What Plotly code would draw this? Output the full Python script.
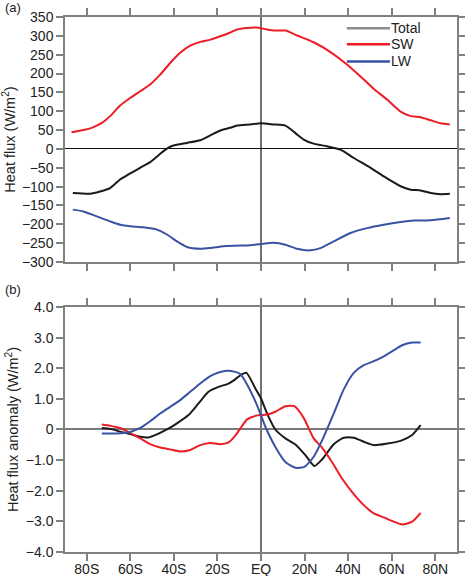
import plotly.graph_objects as go

# ---------------- data: panel (a) zonal-mean heat flux (W/m2) ----------------
sw_lat = [-87, -81.5, -77.7, -73.1, -69.3, -64.7, -60.1, -55.5, -50.9, -46.3, -41.7, -37.1,
          -32.5, -27.9, -23.3, -18.7, -14.1, -11, -6.4, -1.8, 0, 2.8, 5.8, 11.2, 16.6, 24.2,
          31.9, 39.5, 47.2, 51.8, 57.9, 64.1, 68.7, 73.3, 77.9, 82.5, 86.7]
sw_val = [44, 50, 56, 69, 87, 115, 135, 153, 171, 197, 228, 255,
          274, 284, 290, 299, 309, 317, 321, 322, 320, 317, 314, 314, 301, 283,
          257, 224, 184, 159, 131, 99, 87, 84, 76, 68, 65]

tot_lat = [-86.4, -78.5, -73.9, -69.3, -64.7, -60.1, -55.5, -50.9, -46.3, -43.2, -40.2, -34,
           -27.9, -23.3, -18.7, -14.1, -11, -4.9, 0, 5.8, 11.2, 15.8, 19.6, 24.2, 30.3, 36.5,
           42.6, 50.3, 56.4, 64.1, 68.7, 73.3, 77.9, 82.5, 86.7]
tot_val = [-117, -119, -113, -104, -81, -65, -50, -35, -13, 1, 9, 16,
           23, 36, 49, 56, 62, 65, 68, 65, 62, 42, 25, 14, 7, -2,
           -24, -50, -73, -99, -108, -110, -117, -120, -119]

lw_lat = [-86.4, -81.5, -75.4, -69.3, -64.7, -60.1, -53.9, -47.8, -43.2, -38.6, -34, -27.9,
          -23.3, -17.2, -9.5, -6.4, 0, 5.8, 11.2, 16.6, 22.7, 27.3, 33.4, 41.1, 48.7, 56.4,
          64.1, 70.2, 77.9, 86.7]
lw_val = [-161, -166, -179, -192, -201, -205, -208, -214, -227, -245, -260, -265,
          -263, -258, -256, -256, -252, -249, -254, -265, -269, -263, -245, -223, -210, -201,
          -194, -190, -189, -183]

# ---------------- data: panel (b) heat flux anomaly (W/m2) ----------------
swa_lat = [-73.1, -69.3, -64.7, -60.1, -55.5, -50.9, -46.3, -41.7, -37.1, -32.5, -27.9, -23.3,
           -18.7, -14.9, -11.8, -9.5, -6.4, -1.8, 2.8, 6.6, 11.2, 15.3, 19.6, 24.2, 28, 32.6,
           37.2, 42.6, 47.2, 51.8, 56.4, 61, 64.8, 69.4, 73.3]
swa_val = [0.16, 0.12, 0.05, -0.11, -0.29, -0.48, -0.59, -0.65, -0.72, -0.67, -0.51, -0.44,
           -0.48, -0.42, -0.2, 0.03, 0.33, 0.46, 0.49, 0.58, 0.76, 0.76, 0.38, -0.29, -0.59, -1.06,
           -1.6, -2.11, -2.47, -2.74, -2.87, -3.01, -3.10, -3.01, -2.72]

tota_lat = [-73.1, -69.3, -64.7, -60.1, -55.5, -51.6, -47.8, -43.2, -38.6, -33.3, -28.7, -24.1,
            -19.5, -14.9, -12, -9.5, -6.7, -2.6, 0, 2.8, 6.6, 11.2, 15.8, 20.4, 24.5, 28, 33.4,
            38, 42.6, 47.2, 51.8, 57.9, 64.1, 69.4, 73.3]
tota_val = [0.05, 0.02, -0.07, -0.15, -0.24, -0.26, -0.16, 0, 0.2, 0.47, 0.85, 1.23,
            1.39, 1.5, 1.63, 1.77, 1.85, 1.34, 1.01, 0.52, 0, -0.29, -0.49, -0.84, -1.19, -0.98, -0.48,
            -0.27, -0.27, -0.40, -0.51, -0.46, -0.37, -0.18, 0.14]

lwa_lat = [-73.1, -66.2, -60.1, -55.5, -50.9, -46.3, -41.7, -37.1, -32.5, -27.9, -23.3, -19.5,
           -15.6, -11.8, -9.5, -6.4, -1.8, 2, 6.6, 11.2, 15.8, 19.9, 24.2, 28.8, 33.4, 38,
           42.6, 47.2, 51.8, 56.4, 61, 64.8, 69.4, 73.3]
lwa_val = [-0.13, -0.13, -0.08, 0.05, 0.27, 0.52, 0.74, 0.96, 1.23, 1.5, 1.74, 1.86,
           1.92, 1.88, 1.81, 1.47, 0.79, 0.09, -0.57, -1.06, -1.25, -1.22, -0.89, -0.24, 0.52, 1.31,
           1.85, 2.1, 2.23, 2.39, 2.59, 2.75, 2.84, 2.84]

# ---------------- tick labels / legend ----------------
x_tickvals = [-80, -60, -40, -20, 0, 20, 40, 60, 80]
x_ticktext = ["80S", "60S", "40S", "20S", "EQ", "20N", "40N", "60N", "80N"]
yb_tickvals = [-4, -3, -2, -1, 0, 1, 2, 3, 4]
yb_ticktext = ["\u22124.0", "\u22123.0", "\u22122.0", "\u22121.0", "0", "1.0", "2.0", "3.0", "4.0"]
legend_names = ["Total", "SW", "LW"]

BLACK = "#1a1a1a"
RED = "#ee1c25"
BLUE = "#3953a4"
LEG_TOTAL = "#8c8c8c"
GRAY = "#808080"
TXT = "#222222"
FONT = "Liberation Sans, Arial, Helvetica, sans-serif"

fig = go.Figure()

def line(x, y, color, xa, ya):
    return go.Scatter(x=x, y=y, mode="lines", showlegend=False,
                      line=dict(color=color, width=2, shape="spline", smoothing=0.6),
                      xaxis=xa, yaxis=ya, hoverinfo="skip")

# panel (a)
fig.add_trace(line(tot_lat, tot_val, BLACK, "x", "y"))
fig.add_trace(line(sw_lat, sw_val, RED, "x", "y"))
fig.add_trace(line(lw_lat, lw_val, BLUE, "x", "y"))
# panel (b)
fig.add_trace(line(tota_lat, tota_val, BLACK, "x2", "y2"))
fig.add_trace(line(swa_lat, swa_val, RED, "x2", "y2"))
fig.add_trace(line(lwa_lat, lwa_val, BLUE, "x2", "y2"))

axis_common = dict(showline=True, linecolor=GRAY, linewidth=1.5, mirror="ticks",
                   ticks="outside", ticklen=7, tickwidth=1.5, tickcolor=GRAY,
                   showgrid=False, automargin=False,
                   tickfont=dict(size=14, color=TXT, family=FONT))

# legend drawn in the upper-right of panel (a): sample line + label
leg_colors = [LEG_TOTAL, RED, BLUE]
leg_y = [0.979, 0.949, 0.917]
shapes = []
annotations = []
for name, col, yy in zip(legend_names, leg_colors, leg_y):
    shapes.append(dict(type="line", xref="paper", yref="paper", x0=0.719, x1=0.829,
                       y0=yy, y1=yy, line=dict(color=col, width=2.5)))
    annotations.append(dict(text=name, x=0.826, y=yy, xref="paper", yref="paper",
                            xanchor="left", yanchor="middle", showarrow=False,
                            font=dict(size=14, family=FONT, color=TXT)))

annotations += [
    dict(text="(a)", x=-0.158, y=1.017, xref="paper", yref="paper", xanchor="left",
         yanchor="middle", showarrow=False, font=dict(size=13, family=FONT, color=TXT)),
    dict(text="(b)", x=-0.158, y=0.49, xref="paper", yref="paper", xanchor="left",
         yanchor="middle", showarrow=False, font=dict(size=13, family=FONT, color=TXT)),
]

fig.update_layout(
    width=465, height=576,
    margin=dict(l=65, r=8, t=17, b=24),
    paper_bgcolor="white", plot_bgcolor="white",
    font=dict(family=FONT, size=14, color=TXT),
    showlegend=False,
    xaxis=dict(domain=[0, 1], anchor="y", range=[-90, 90], tickvals=x_tickvals,
               ticktext=x_ticktext, showticklabels=False,
               zeroline=True, zerolinecolor="#707070", zerolinewidth=1.5, **axis_common),
    yaxis=dict(domain=[0.542, 1], anchor="x", range=[-300, 350], dtick=50, tick0=0,
               zeroline=True, zerolinecolor="#111111", zerolinewidth=1.2,
               title=dict(text="Heat flux (W/m<sup>2</sup>)", font=dict(size=14.5), standoff=4),
               **axis_common),
    xaxis2=dict(domain=[0, 1], anchor="y2", range=[-90, 90], tickvals=x_tickvals,
                ticktext=x_ticktext, showticklabels=True, ticklabelstandoff=-4,
                zeroline=True, zerolinecolor="#707070", zerolinewidth=1.5, **axis_common),
    yaxis2=dict(domain=[0, 0.458], anchor="x2", range=[-4, 4], tickvals=yb_tickvals,
                ticktext=yb_ticktext,
                zeroline=True, zerolinecolor="#7a7a7a", zerolinewidth=2,
                title=dict(text="Heat flux anomaly (W/m<sup>2</sup>)", font=dict(size=14.5), standoff=4),
                **axis_common),
    shapes=shapes,
    annotations=annotations,
)

fig.write_html("out.html", config={"displayModeBar": False},
               post_script="document.body.style.margin='0px';document.body.style.overflow='hidden';")
